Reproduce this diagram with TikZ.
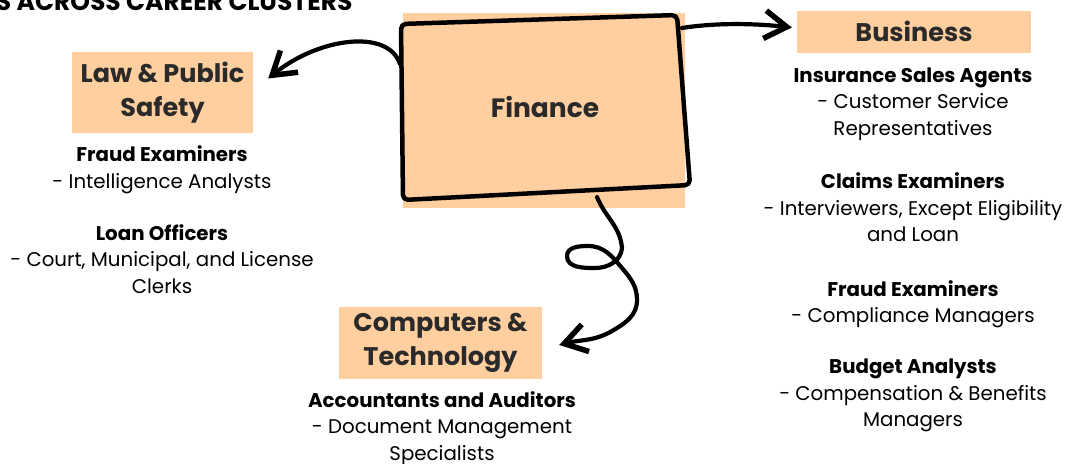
\documentclass[tikz,border=0pt]{standalone}
\usepackage{fontspec}
\setmainfont{Poppins}
\usepackage{xcolor}
\usepackage{tikz}
\usetikzlibrary{arrows.meta}

\definecolor{peach}{HTML}{FFCF9F}
\definecolor{ink}{HTML}{2A2A2A}

\begin{document}
\begin{tikzpicture}[x=1pt, y=-1pt,
  cluster/.style={fill=peach, text=ink, inner sep=0pt, align=center,
    font=\fontsize{25.5}{34}\selectfont\bfseries},
  job/.style={anchor=base, align=center, font=\fontsize{19.8}{26.5}\selectfont},
  swoop/.style={line width=4.2pt, line cap=round,
    -{Straight Barb[length=22pt, width=28pt, line width=5.5pt]}}]
\useasboundingbox (0,0) rectangle (1065,463);

% Heading, cut off at the top edge
\node[anchor=base east, font=\fontsize{25}{30}\selectfont\bfseries] (title) at (356,10) {S ACROSS CAREER CLUSTERS};

% Centre box with hand drawn border
\node[fill=peach, minimum width=282, minimum height=195, inner sep=0pt] (fin) at (544,110.5) {};
\node[text=ink, font=\fontsize{26.5}{34}\selectfont\bfseries] (finText) at (545,107) {Finance};
\draw[line width=4.5pt, rounded corners=5pt, line join=round]
  (401,24) -- (677,15) -- (690,185) -- (403,200) -- cycle;

% Career clusters
\node[cluster, minimum width=181, minimum height=81] (law) at (162.5,92.5) {Law \& Public\\Safety};
\node[cluster, minimum width=234, minimum height=42] (bus) at (914,31.5) {Business};
\node[cluster, minimum width=203, minimum height=72] (comp) at (440.5,343) {Computers \&\\Technology};

% Occupations under each cluster (placed at the last baseline)
\node[job] (lawA) at (162,188) {\textbf{Fraud Examiners}\\- Intelligence Analysts};
\node[job] (lawB) at (162,293) {\textbf{Loan Officers}\\- Court, Municipal, and License\\Clerks};

\node[job] (busA) at (913,135) {\textbf{Insurance Sales Agents}\\- Customer Service\\Representatives};
\node[job] (busB) at (913,241.5) {\textbf{Claims Examiners}\\- Interviewers, Except Eligibility\\and Loan};
\node[job] (busC) at (913,322.5) {\textbf{Fraud Examiners}\\- Compliance Managers};
\node[job] (busD) at (913,426.5) {\textbf{Budget Analysts}\\- Compensation \& Benefits\\Managers};

\node[job] (compA) at (442,460) {\textbf{Accountants and Auditors}\\- Document Management\\Specialists};

% Connector ends
\coordinate (finW) at (400,64);
\coordinate (finNE) at (682,28);
\coordinate (finS) at (597,197);
\coordinate (lawIn) at ([shift={(15,-14)}]law.east);
\coordinate (busIn) at ([shift={(-5,-4)}]bus.west);
\coordinate (compIn) at ([shift={(17,2)}]comp.east);

% Arrows
\draw[swoop] (finW) .. controls (388,28) and (318,38) .. (lawIn);
\draw[swoop] (finNE) .. controls (720,22) and (760,24) .. (busIn);
\draw[swoop] (finS) to[out=-68,in=95] (622,248) to[out=-95,in=0] (595,268)
  to[out=180,in=-90] (567,256) to[out=90,in=180] (588,246)
  to[out=0,in=130] (622,268) to[out=-50,in=90] (637,300)
  to[out=-90,in=30] (612,331) to[out=210,in=15] (compIn);

\end{tikzpicture}
\end{document}
